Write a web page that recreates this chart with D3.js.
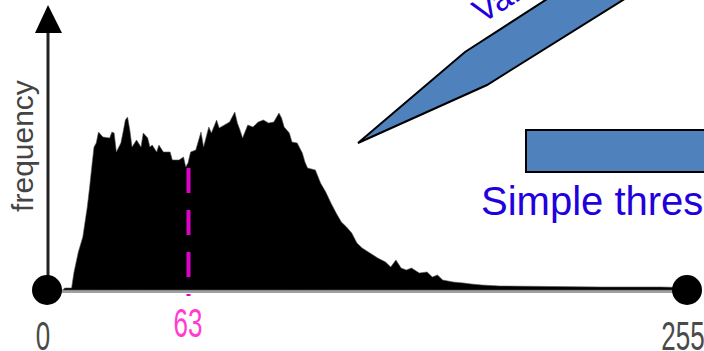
<!DOCTYPE html>
<html lang="en">
<head>
    <meta charset="UTF-8">
    <script src="https://d3js.org/d3.v7.min.js"></script>
    <title>Histogram threshold</title>
    <style>
        body { margin: 0; background: white; }
        svg { display: block; }
        text.tick { font-family: 'Liberation Sans', Arial, sans-serif; font-size: 40px; text-anchor: middle; }
    </style>
</head>
<body>
<svg height="351" width="704"></svg>
<script>
    const width = 704, height = 351;

    // grey level -> pixel count
    const levels = [7, 8, 11, 12, 14, 16, 18, 19, 20, 21, 22, 23, 25, 28, 29, 30, 31, 33, 34, 35, 36, 37, 38, 40,
        42, 43, 45, 46, 47, 49, 50, 52, 55, 56, 59, 61, 62, 63, 64, 66, 68, 69, 71, 72, 74, 75, 77, 79, 81, 82,
        83, 84, 86, 88, 90, 92, 94, 96, 98, 99, 100, 102, 103, 105, 107, 108, 109, 112, 114, 116, 118, 120, 122,
        124, 126, 128, 130, 133, 136, 139, 141, 143, 145, 147, 149, 152, 155, 157, 159, 161, 165, 169, 172, 176,
        183, 203, 222, 245, 253, 255];
    const counts = [0, 8, 8, 68, 152, 212, 332, 408, 492, 572, 588, 632, 612, 608, 632, 628, 552, 588, 632, 680,
        692, 640, 572, 600, 572, 628, 608, 572, 580, 552, 580, 552, 552, 520, 520, 532, 492, 508, 552, 560, 632,
        572, 652, 628, 680, 648, 660, 672, 712, 668, 640, 608, 660, 652, 672, 680, 668, 672, 708, 688, 652, 628,
        592, 588, 548, 512, 488, 480, 428, 392, 348, 308, 272, 252, 228, 188, 168, 148, 128, 112, 92, 120, 88,
        80, 88, 68, 72, 52, 60, 40, 32, 28, 24, 20, 16, 14, 12, 12, 10, 0];
    const endTicks = [0, 255];
    const threshold = 63;

    const x = d3.scaleLinear().domain([0, 63, 255]).range([47, 188, 687]);
    const y = d3.scaleLinear().domain([0, 1040]).range([290, 30]);

    const svg = d3.select("svg");
    const hist = levels.map((l, i) => ({level: l, count: counts[i]}));

    // annotation shapes (slide overlay)
    svg.append("polygon")
        .attr("points", "358,143 465,52 561,-10 639,-10 487,85")
        .attr("fill", "#4f81bd").attr("stroke", "black").attr("stroke-width", 2);
    svg.append("text")
        .attr("transform", "translate(482,24) rotate(-32)")
        .attr("fill", "#2200dd")
        .style("font-family", "'Liberation Sans', Arial, sans-serif")
        .style("font-size", "34px")
        .text("Valley threshold");
    svg.append("rect")
        .attr("x", 526).attr("y", 130).attr("width", 220).attr("height", 42)
        .attr("fill", "#4f81bd").attr("stroke", "black").attr("stroke-width", 2);
    svg.append("text")
        .attr("x", 481).attr("y", 215)
        .attr("fill", "#2200dd")
        .style("font-family", "'Liberation Sans', Arial, sans-serif")
        .style("font-size", "40px")
        .text("Simple thresholding");

    // x axis line
    svg.append("line")
        .attr("x1", x(0)).attr("x2", x(255))
        .attr("y1", y(0) + 1.5).attr("y2", y(0) + 1.5)
        .attr("stroke", "#a0a0a0").attr("stroke-width", 3);

    // histogram
    const area = d3.area()
        .x(d => x(d.level))
        .y0(y(0))
        .y1(d => y(d.count));
    svg.append("path").datum(hist)
        .attr("d", area)
        .attr("fill", "black")
        .attr("stroke", "#555").attr("stroke-width", 0.6);

    // y axis with arrow
    svg.append("line")
        .attr("x1", 48).attr("x2", 48)
        .attr("y1", 30).attr("y2", y(0))
        .attr("stroke", "#222").attr("stroke-width", 3);
    svg.append("path")
        .attr("d", "M48,5 L35,33 L62,33 Z")
        .attr("fill", "black");
    svg.append("text")
        .attr("transform", "translate(33,146) rotate(-90)")
        .attr("text-anchor", "middle")
        .attr("fill", "#444")
        .style("font-family", "'Liberation Sans', Arial, sans-serif")
        .style("font-size", "30px")
        .text("frequency");

    // threshold
    const tCount = counts[levels.indexOf(threshold)];
    svg.append("line")
        .attr("x1", x(threshold) + 0.5).attr("x2", x(threshold) + 0.5)
        .attr("y1", y(tCount) + 5).attr("y2", y(0) + 6)
        .attr("stroke", "#e000c8").attr("stroke-width", 4)
        .attr("stroke-dasharray", "25,17");
    svg.append("text").attr("class", "tick")
        .attr("transform", `translate(${x(threshold)},337) scale(0.65,1)`)
        .attr("fill", "#ff3ccf")
        .text(threshold);

    // end points
    svg.selectAll("circle.end").data(endTicks).enter().append("circle")
        .attr("class", "end")
        .attr("cx", d => x(d)).attr("cy", y(0))
        .attr("r", 15).attr("fill", "black");
    svg.selectAll("text.end").data(endTicks).enter().append("text")
        .attr("class", "tick end")
        .attr("transform", d => `translate(${x(d) - 4},350) scale(0.65,1)`)
        .attr("fill", "#4a4a4a")
        .text(d => d);
</script>
</body>
</html>
